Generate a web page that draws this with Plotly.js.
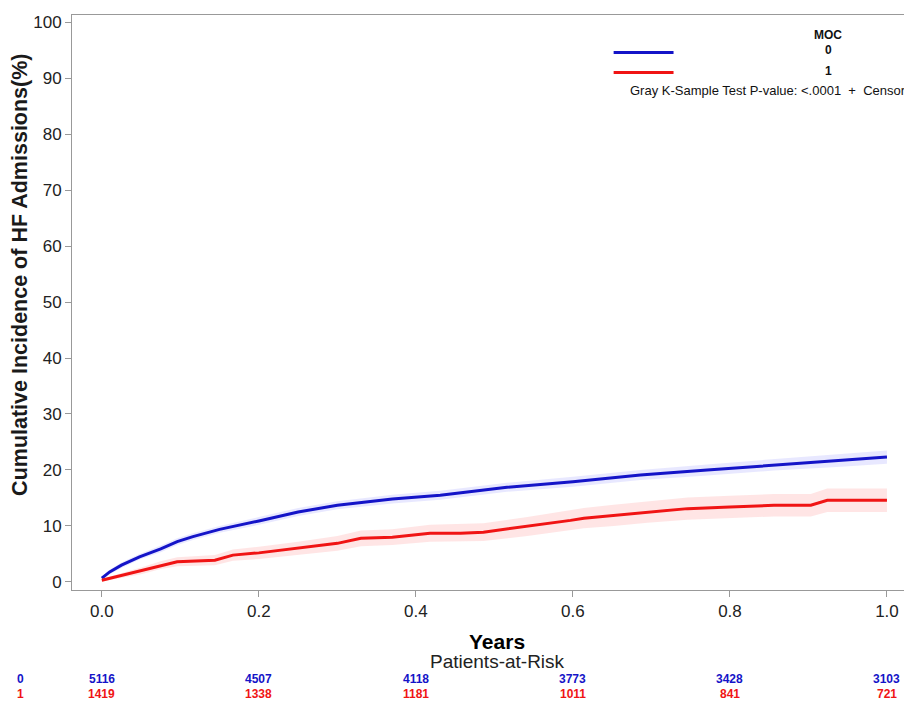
<!DOCTYPE html>
<html>
<head>
<meta charset="utf-8">
<script src="https://cdn.plot.ly/plotly-3.0.1.min.js"></script>
<style>html,body{margin:0;padding:0;background:#fff;}#chart{width:904px;height:703px;}</style>
</head>
<body>
<div id="chart"></div>
<script>
// ---- data ----
const timesBlue = [0, 0.01, 0.025, 0.048, 0.075, 0.096, 0.116, 0.15, 0.2, 0.25, 0.3, 0.37, 0.431, 0.457, 0.516, 0.6, 0.686, 0.771, 0.856, 0.941, 1.0];
const cifBlue   = [0.7, 1.8, 3.0, 4.5, 5.9, 7.2, 8.1, 9.4, 10.9, 12.5, 13.7, 14.8, 15.5, 15.9, 16.9, 17.9, 19.1, 20.0, 20.9, 21.7, 22.3];
const lowBlue   = [0.4, 1.4, 2.5, 4.0, 5.3, 6.6, 7.5, 8.8, 10.2, 11.8, 13.0, 14.0, 14.7, 15.1, 16.1, 17.0, 18.2, 19.0, 19.9, 20.6, 21.1];
const highBlue  = [1.0, 2.2, 3.5, 5.0, 6.5, 7.8, 8.7, 10.0, 11.6, 13.2, 14.4, 15.6, 16.3, 16.7, 17.7, 18.8, 20.0, 21.0, 21.9, 22.8, 23.5];

const timesRed = [0, 0.02, 0.05, 0.075, 0.096, 0.144, 0.167, 0.2, 0.25, 0.30, 0.33, 0.37, 0.418, 0.457, 0.486, 0.542, 0.597, 0.614, 0.652, 0.695, 0.746, 0.80, 0.856, 0.903, 0.924, 1.0];
const cifRed   = [0.3, 1.0, 2.0, 3.0, 3.6, 3.9, 4.8, 5.2, 6.0, 6.9, 7.8, 8.0, 8.7, 8.7, 8.9, 9.9, 11.0, 11.4, 11.9, 12.5, 13.1, 13.4, 13.7, 13.7, 14.6, 14.6];
const lowRed   = [0.1, 0.6, 1.4, 2.3, 2.8, 3.0, 3.8, 4.1, 4.8, 5.6, 6.4, 6.6, 7.2, 7.2, 7.3, 8.2, 9.2, 9.6, 10.0, 10.6, 11.1, 11.4, 11.7, 11.7, 12.5, 12.5];
const highRed  = [0.5, 1.4, 2.6, 3.7, 4.4, 4.8, 5.8, 6.3, 7.2, 8.2, 9.2, 9.4, 10.2, 10.3, 10.5, 11.6, 12.8, 13.2, 13.8, 14.4, 15.1, 15.4, 15.7, 15.7, 16.7, 16.7];

const riskTimes = [0.0, 0.2, 0.4, 0.6, 0.8, 1.0];
const riskBlue  = [5116, 4507, 4118, 3773, 3428, 3103];
const riskRed   = [1419, 1338, 1181, 1011, 841, 721];
const groupLabels = ['0', '1'];
const xTickVals = [0.0, 0.2, 0.4, 0.6, 0.8, 1.0];
const xTickText = ['0.0', '0.2', '0.4', '0.6', '0.8', '1.0'];
const yTickVals = [0, 10, 20, 30, 40, 50, 60, 70, 80, 90, 100];

const BLUE = '#1414c8';
const RED = '#f01414';
const FONT = 'Liberation Sans, Arial, sans-serif';

const traces = [
  {x: timesBlue, y: lowBlue, mode: 'lines', line: {width: 0}, showlegend: false, hoverinfo: 'skip'},
  {x: timesBlue, y: highBlue, mode: 'lines', line: {width: 0}, fill: 'tonexty', fillcolor: 'rgba(110,110,255,0.16)', showlegend: false, hoverinfo: 'skip'},
  {x: timesRed, y: lowRed, mode: 'lines', line: {width: 0}, showlegend: false, hoverinfo: 'skip'},
  {x: timesRed, y: highRed, mode: 'lines', line: {width: 0}, fill: 'tonexty', fillcolor: 'rgba(255,110,110,0.18)', showlegend: false, hoverinfo: 'skip'},
  {x: timesBlue, y: cifBlue, mode: 'lines', line: {color: BLUE, width: 3}, showlegend: false},
  {x: timesRed, y: cifRed, mode: 'lines', line: {color: RED, width: 3}, showlegend: false}
];

const annotations = [];
// y-axis title
annotations.push({xref: 'paper', yref: 'paper', x: -0.0625, y: 0.548, text: '<b>Cumulative Incidence of HF Admissions(%)</b>',
  textangle: -90, showarrow: false, xanchor: 'center', yanchor: 'middle', font: {family: FONT, size: 21.5, color: '#1a1a1a'}});
// x title and at-risk heading
annotations.push({xref: 'paper', yref: 'paper', x: 0.511, y: -0.0887, text: '<b>Years</b>', showarrow: false,
  xanchor: 'center', yanchor: 'middle', font: {family: FONT, size: 21, color: '#000'}});
annotations.push({xref: 'paper', yref: 'paper', x: 0.511, y: -0.1235, text: 'Patients-at-Risk', showarrow: false,
  xanchor: 'center', yanchor: 'middle', font: {family: FONT, size: 19, color: '#222'}});
// at-risk rows
const rowY = [-0.155, -0.181];
const rowColors = [BLUE, RED];
const rowVals = [riskBlue, riskRed];
for (let r = 0; r < 2; r++) {
  annotations.push({xref: 'paper', yref: 'paper', x: -0.0625, y: rowY[r], text: '<b>' + groupLabels[r] + '</b>', showarrow: false,
    xanchor: 'center', yanchor: 'middle', font: {family: FONT, size: 12, color: rowColors[r]}});
  for (let i = 0; i < riskTimes.length; i++) {
    annotations.push({xref: 'x', yref: 'paper', x: riskTimes[i], y: rowY[r], text: '<b>' + String(rowVals[r][i]) + '</b>', showarrow: false,
      xanchor: 'center', yanchor: 'middle', font: {family: FONT, size: 12, color: rowColors[r]}});
  }
}
// legend text
annotations.push({xref: 'paper', yref: 'paper', x: 0.909, y: 0.965, text: '<b>MOC</b>', showarrow: false,
  xanchor: 'center', yanchor: 'middle', font: {family: FONT, size: 12, color: '#111'}});
annotations.push({xref: 'paper', yref: 'paper', x: 0.909, y: 0.939, text: '<b>' + groupLabels[0] + '</b>', showarrow: false,
  xanchor: 'center', yanchor: 'middle', font: {family: FONT, size: 12, color: '#111'}});
annotations.push({xref: 'paper', yref: 'paper', x: 0.909, y: 0.903, text: '<b>' + groupLabels[1] + '</b>', showarrow: false,
  xanchor: 'center', yanchor: 'middle', font: {family: FONT, size: 12, color: '#111'}});
annotations.push({xref: 'paper', yref: 'paper', x: 0.668, y: 0.868, text: 'Gray K-Sample Test P-value: &lt;.0001  +  Censored', showarrow: false,
  xanchor: 'left', yanchor: 'middle', font: {family: FONT, size: 13, color: '#111'}});

const shapes = [
  {type: 'line', xref: 'paper', yref: 'paper', x0: 0.651, x1: 0.723, y0: 0.935, y1: 0.935, line: {color: BLUE, width: 3}},
  {type: 'line', xref: 'paper', yref: 'paper', x0: 0.651, x1: 0.723, y0: 0.900, y1: 0.900, line: {color: RED, width: 3}}
];

const layout = {
  width: 904, height: 703,
  margin: {l: 72, r: 0, t: 15, b: 113},
  paper_bgcolor: '#fff', plot_bgcolor: '#fff',
  showlegend: false,
  xaxis: {range: [-0.038, 1.0217], tickvals: xTickVals, ticktext: xTickText, ticks: 'outside', ticklen: 6, tickcolor: '#999',
    showline: true, linecolor: '#999', linewidth: 1, mirror: true, showgrid: false, zeroline: false,
    tickfont: {family: FONT, size: 17, color: '#222'}},
  yaxis: {range: [-1.43, 101.25], tickvals: yTickVals, ticks: 'outside', ticklen: 6, tickcolor: '#999',
    showline: true, linecolor: '#999', linewidth: 1, mirror: false, showgrid: false, zeroline: false,
    tickfont: {family: FONT, size: 17, color: '#222'}},
  annotations: annotations,
  shapes: shapes
};

Plotly.newPlot('chart', traces, layout, {displayModeBar: false, staticPlot: true});
</script>
</body>
</html>
